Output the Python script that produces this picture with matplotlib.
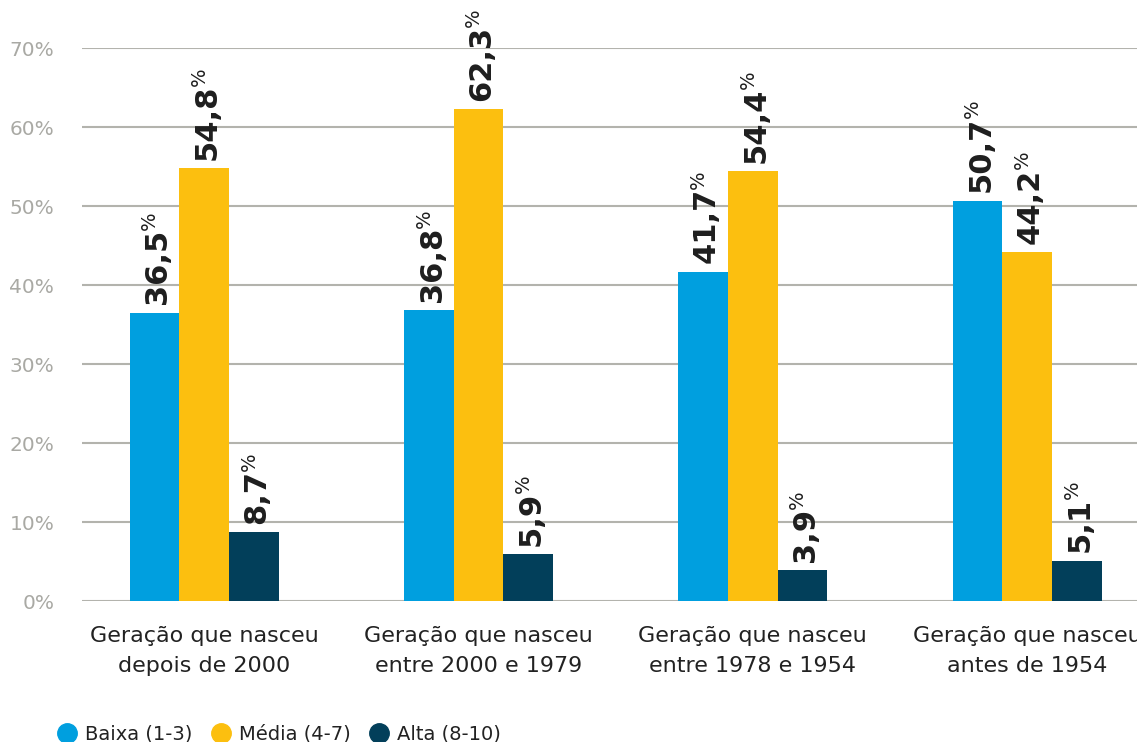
import matplotlib.pyplot as plt
import numpy as np
from matplotlib.lines import Line2D

# Data
groups = ['Geração que nasceu\ndepois de 2000', 'Geração que nasceu\nentre 2000 e 1979',
          'Geração que nasceu\nentre 1978 e 1954', 'Geração que nasceu\nantes de 1954']
series = ['Baixa (1-3)', 'Média (4-7)', 'Alta (8-10)']
baixa = [36.5, 36.8, 41.7, 50.7]
media = [54.8, 62.3, 54.4, 44.2]
alta = [8.7, 5.9, 3.9, 5.1]
yticks = [0, 10, 20, 30, 40, 50, 60, 70]

colors = ['#009fdf', '#fcbf0f', '#023f5a']

plt.rcParams['font.family'] = 'DejaVu Sans'

fig = plt.figure(figsize=(11.37, 7.42), dpi=100)
ax = fig.add_axes([0.0721, 0.190, 0.9279, 0.745])

x = np.arange(len(groups))
w = 0.181
bars = []
for i, (vals, c) in enumerate(zip([baixa, media, alta], colors)):
    b = ax.bar(x + (i - 1) * w, vals, w, color=c, zorder=3)
    bars.append(b)

ax.set_xlim(-0.445, 3.40)
ax.set_ylim(0, 70)
ax.set_yticks(yticks)
ax.set_yticklabels([f'{t}%' for t in yticks], color='#a9a9a4', fontsize=14.5)
ax.set_xticks(x)
ax.set_xticklabels(groups, fontsize=16, color='#222222', linespacing=1.6)
ax.tick_params(axis='both', length=0)
ax.tick_params(axis='y', pad=20)
ax.tick_params(axis='x', pad=18)
ax.yaxis.grid(True, color='#b3b3ad', lw=1.5, zorder=0)
ax.set_axisbelow(True)
for s in ax.spines.values():
    s.set_visible(False)

# value labels: bold number + small superscript %
labels = []
for b in bars:
    for rect in b:
        v = rect.get_height()
        t = ax.annotate(f'{v:.1f}'.replace('.', ','), xy=(rect.get_x() + rect.get_width() / 2 + 0.012, v),
                        xytext=(0, 6), textcoords='offset points', rotation=90,
                        ha='center', va='bottom', fontsize=22, fontweight='bold', color='#1e1e1e')
        labels.append(t)

fig.canvas.draw()
r = fig.canvas.get_renderer()
for t in labels:
    bb = t.get_window_extent(r)
    fig.text(bb.x0 - 3, bb.y1 - 1, '%', rotation=90, ha='left', va='bottom',
             fontsize=14, color='#1e1e1e', transform=None)

handles = [Line2D([], [], marker='o', ls='', markersize=14, color=c) for c in colors]
fig.legend(handles, series, loc='lower left', bbox_to_anchor=(0.035, -0.026), ncol=3,
           frameon=False, fontsize=14, handlelength=1.0, handletextpad=0.4,
           columnspacing=1.0, labelcolor='#222222')

fig.savefig('out.png', dpi=100)
